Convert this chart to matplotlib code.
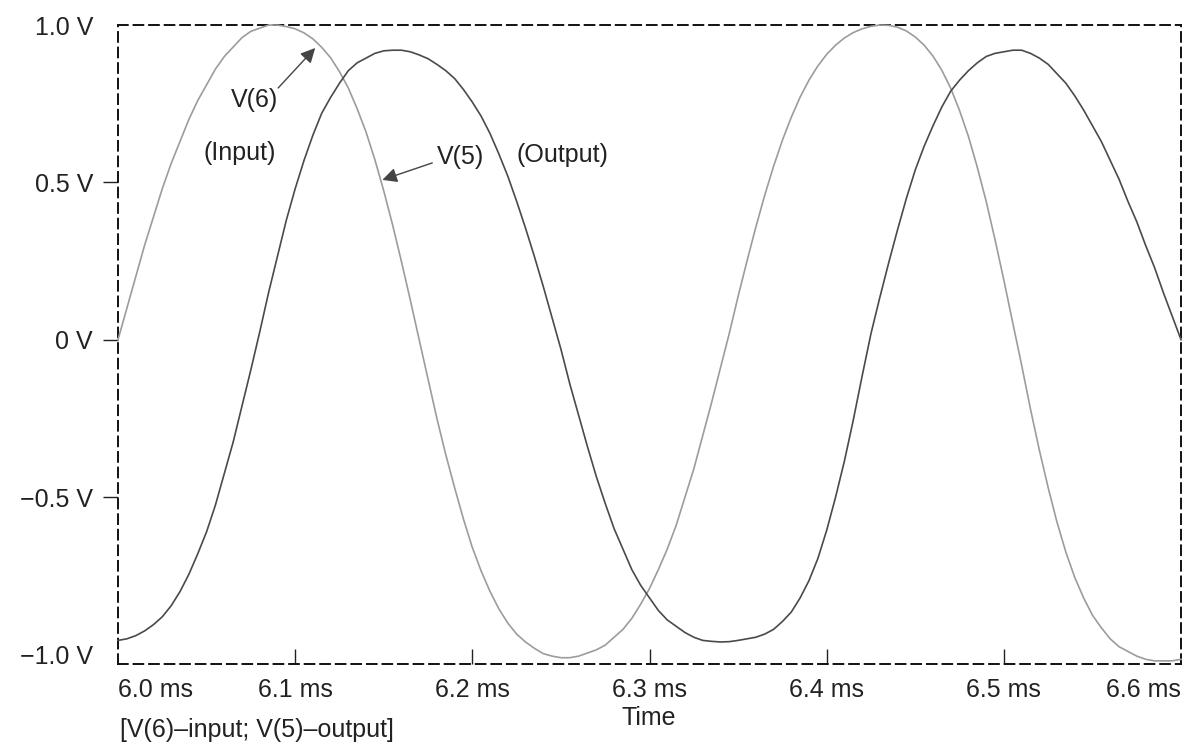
#!/usr/bin/env python3
from __future__ import annotations

import matplotlib

matplotlib.use("Agg")
import matplotlib.pyplot as plt

# both traces every 0.005 ms from 6.000 to 6.600 ms
sample_t = [round(6.0 + 0.005 * i, 3) for i in range(121)]

# V(6) input, volts
input_v = [
    0.00, 0.10, 0.20, 0.30, 0.39, 0.48, 0.56, 0.63, 0.70, 0.76,
    0.81, 0.86, 0.90, 0.93, 0.96, 0.98, 0.99, 1.00, 1.00, 0.995,
    0.988, 0.975, 0.956, 0.929, 0.896, 0.852, 0.800, 0.734, 0.660, 0.572,
    0.473, 0.365, 0.248, 0.126, 0.00, -0.125, -0.25, -0.365, -0.47, -0.57,
    -0.66, -0.735, -0.80, -0.855, -0.90, -0.935, -0.96, -0.98, -0.997, -1.005,
    -1.01, -1.01, -1.005, -0.995, -0.985, -0.97, -0.945, -0.92, -0.885, -0.84,
    -0.79, -0.73, -0.665, -0.59, -0.50, -0.41, -0.305, -0.20, -0.09, 0.02,
    0.138, 0.25, 0.358, 0.459, 0.551, 0.634, 0.707, 0.771, 0.825, 0.870,
    0.907, 0.936, 0.959, 0.976, 0.988, 0.996, 1.00, 0.999, 0.993, 0.981,
    0.962, 0.936, 0.901, 0.856, 0.799, 0.728, 0.646, 0.548, 0.44, 0.318,
    0.189, 0.054, -0.08, -0.22, -0.35, -0.47, -0.58, -0.675, -0.755, -0.82,
    -0.875, -0.915, -0.95, -0.975, -0.99, -1.005, -1.015, -1.02, -1.02, -1.02,
    -1.015,
]

# V(5) output, volts
output_v = [
    -0.955, -0.95, -0.94, -0.925, -0.905, -0.88, -0.845, -0.80, -0.745, -0.68,
    -0.61, -0.525, -0.425, -0.325, -0.21, -0.095, 0.025, 0.15, 0.265, 0.38,
    0.48, 0.57, 0.65, 0.72, 0.77, 0.815, 0.855, 0.88, 0.895, 0.91,
    0.918, 0.92, 0.92, 0.915, 0.905, 0.893, 0.875, 0.855, 0.83, 0.795,
    0.755, 0.71, 0.655, 0.59, 0.52, 0.44, 0.355, 0.265, 0.17, 0.07,
    -0.03, -0.14, -0.24, -0.34, -0.435, -0.52, -0.60, -0.665, -0.73, -0.78,
    -0.82, -0.86, -0.89, -0.91, -0.93, -0.945, -0.955, -0.958, -0.96, -0.959,
    -0.955, -0.95, -0.945, -0.935, -0.92, -0.895, -0.865, -0.82, -0.765, -0.695,
    -0.605, -0.50, -0.385, -0.255, -0.115, 0.02, 0.135, 0.245, 0.35, 0.45,
    0.54, 0.615, 0.68, 0.74, 0.79, 0.825, 0.855, 0.88, 0.90, 0.91,
    0.915, 0.92, 0.92, 0.91, 0.895, 0.875, 0.845, 0.815, 0.775, 0.73,
    0.68, 0.63, 0.57, 0.51, 0.44, 0.375, 0.30, 0.23, 0.15, 0.075,
    0.00,
]

x_ticks = [6.0, 6.1, 6.2, 6.3, 6.4, 6.5, 6.6]
x_labels = ["6.0 ms", "6.1 ms", "6.2 ms", "6.3 ms", "6.4 ms", "6.5 ms", "6.6 ms"]
y_ticks = [1.0, 0.5, 0.0, -0.5, -1.0]
y_labels = ["1.0 V", "0.5 V", "0 V", "\u22120.5 V", "\u22121.0 V"]

TEXT = "#222222"
LIGHT = "#9c9c9c"
DARK = "#4a4a4a"
FONT = ["Liberation Sans", "DejaVu Sans"]
SIZE = 18


def main() -> None:
    assert len(input_v) == len(sample_t) == len(output_v)
    plt.rcParams["font.family"] = FONT
    fig = plt.figure(figsize=(11.93, 7.47), dpi=100)
    ax = fig.add_axes([0.0989, 0.1111, 0.8911, 0.8554])

    ax.plot(sample_t, input_v, color=LIGHT, linewidth=1.2, zorder=3, clip_on=False)
    ax.plot(sample_t, output_v, color=DARK, linewidth=1.2, zorder=3, clip_on=False)

    ax.set_xlim(6.0, 6.6)
    ax.set_ylim(-1.03, 1.0)

    for side in ("top", "bottom", "left", "right"):
        sp = ax.spines[side]
        sp.set_linestyle((0, (5, 3)))
        sp.set_linewidth(1.4)
        sp.set_color("#111111")

    ax.set_xticks(x_ticks)
    ax.set_xticklabels(x_labels)
    ax.set_yticks(y_ticks)
    ax.set_yticklabels(y_labels)
    ax.tick_params(axis="x", direction="in", length=11, width=1.0, pad=10,
                   labelsize=SIZE, labelcolor=TEXT, color="#222222")
    ax.tick_params(axis="y", direction="out", length=11, width=1.0, pad=7,
                   labelsize=SIZE, labelcolor=TEXT, color="#222222")

    xt = ax.xaxis.get_major_ticks()
    xt[0].tick1line.set_visible(False)
    xt[-1].tick1line.set_visible(False)
    xt[0].label1.set_horizontalalignment("left")
    xt[-1].label1.set_horizontalalignment("right")
    yt = ax.yaxis.get_major_ticks()
    yt[0].tick1line.set_visible(False)
    yt[-1].tick1line.set_visible(False)

    arrow = dict(arrowstyle="-|>", color="#444444", lw=1.0, mutation_scale=22,
                 shrinkA=0, shrinkB=0)
    ax.annotate("", xy=(6.1113, 0.927), xytext=(6.0904, 0.80), arrowprops=arrow)
    ax.text(6.0768, 0.762, "V(6)", fontsize=SIZE, color=TEXT, ha="center", va="center")
    ax.text(6.0689, 0.594, "(Input)", fontsize=SIZE, color=TEXT, ha="center", va="center")
    ax.annotate("", xy=(6.1492, 0.508), xytext=(6.1774, 0.562), arrowprops=arrow)
    ax.text(6.1932, 0.581, "V(5)", fontsize=SIZE, color=TEXT, ha="center", va="center")
    ax.text(6.2508, 0.587, "(Output)", fontsize=SIZE, color=TEXT, ha="center", va="center")

    fig.text(649 / 1193, 1 - 718 / 747, "Time", fontsize=SIZE, color=TEXT,
             ha="center", va="center")
    fig.text(120 / 1193, 1 - 730 / 747, "[V(6)\u2013input; V(5)\u2013output]",
             fontsize=SIZE, color=TEXT, ha="left", va="center")

    fig.savefig("out.png", dpi=100, facecolor="white")
    plt.close(fig)


if __name__ == "__main__":
    main()
